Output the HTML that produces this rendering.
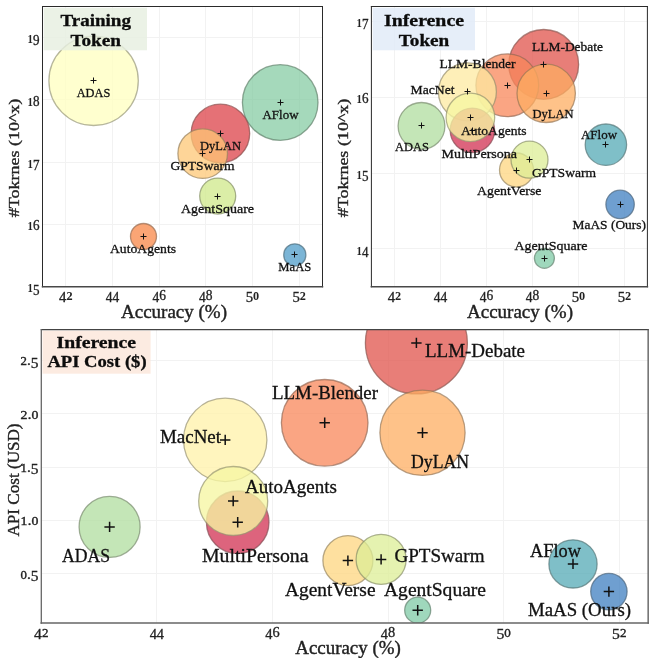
<!DOCTYPE html>
<html lang="en">
<head>
<meta charset="utf-8">
<title>Token and API cost vs. accuracy</title>
<style>
html, body { margin: 0; padding: 0; background: #fff; }
body { width: 650px; height: 658px; overflow: hidden; }
svg { display: block; font-family: "Liberation Serif", "DejaVu Serif", serif; }
</style>
</head>
<body>
<svg width="650" height="658" viewBox="0 0 650 658" role="img" aria-label="Bubble charts of training tokens, inference tokens and inference API cost versus accuracy">
<rect width="650" height="658" fill="#fff"/>
<g id="p1">
<rect x="42.5" y="6.5" width="280" height="280.25" fill="#fff"/>
<path d="M65.5 6.5V286.75M112.5 6.5V286.75M159.5 6.5V286.75M205.5 6.5V286.75M252.5 6.5V286.75M299.5 6.5V286.75M42.5 286.5H322.5M42.5 224.5H322.5M42.5 162.5H322.5M42.5 99.5H322.5M42.5 37.5H322.5" stroke="#f2f2f2" stroke-width="1" fill="none"/>
<clipPath id="cp1"><rect x="42.5" y="6.5" width="280" height="280.25"/></clipPath>
<g clip-path="url(#cp1)">
<circle cx="93.6" cy="80.8" r="44.7" fill="#ffffbf" fill-opacity="0.75" stroke="#98987b" stroke-opacity="0.7" stroke-width="1.3"/>
<circle cx="280.2" cy="102.5" r="37.8" fill="#74c596" fill-opacity="0.65" stroke="#61816b" stroke-opacity="0.7" stroke-width="1.3"/>
<circle cx="220.4" cy="133.5" r="29.3" fill="#dc4248" fill-opacity="0.75" stroke="#8a4d4c" stroke-opacity="0.7" stroke-width="1.3"/>
<circle cx="202.7" cy="153.6" r="24.8" fill="#fdc776" fill-opacity="0.75" stroke="#98825e" stroke-opacity="0.7" stroke-width="1.3"/>
<circle cx="217.7" cy="196.1" r="18" fill="#cfe88a" fill-opacity="0.75" stroke="#858f66" stroke-opacity="0.7" stroke-width="1.3"/>
<circle cx="143.5" cy="236.5" r="13" fill="#f98e52" fill-opacity="0.8" stroke="#966b50" stroke-opacity="0.7" stroke-width="1.3"/>
<circle cx="294.8" cy="254.9" r="11.1" fill="#4f9cc8" fill-opacity="0.75" stroke="#52717f" stroke-opacity="0.7" stroke-width="1.3"/>
</g>
<path d="M90.5 80.5H96.5M93.5 77.5V83.5" stroke="#111" stroke-width="1" fill="none"/>
<path d="M277.5 102.5H283.5M280.5 99.5V105.5" stroke="#111" stroke-width="1" fill="none"/>
<path d="M217.5 133.5H223.5M220.5 130.5V136.5" stroke="#111" stroke-width="1" fill="none"/>
<path d="M199.5 153.5H205.5M202.5 150.5V156.5" stroke="#111" stroke-width="1" fill="none"/>
<path d="M214.5 196.5H220.5M217.5 193.5V199.5" stroke="#111" stroke-width="1" fill="none"/>
<path d="M140.5 236.5H146.5M143.5 233.5V239.5" stroke="#111" stroke-width="1" fill="none"/>
<path d="M291.5 254.5H297.5M294.5 251.5V257.5" stroke="#111" stroke-width="1" fill="none"/>
<rect x="43.7" y="7.8" width="103.3" height="42.5" fill="#e6efe0" fill-opacity="0.82"/>
<path d="M42.5 6.5H322.5" stroke="#2a2a2a" stroke-width="1" fill="none" stroke-linecap="square"/>
<path d="M322.5 6.5V286.75" stroke="#2a2a2a" stroke-width="1" fill="none" stroke-linecap="square"/>
<path d="M42.5 6.5V286.75" stroke="#2a2a2a" stroke-width="1" fill="none" stroke-linecap="square"/>
<path d="M42.5 286.75H322.5" stroke="#484848" stroke-width="1.5" fill="none" stroke-linecap="square"/>
<text x="95.7" y="26" font-size="16.3" text-anchor="middle" font-weight="bold" fill="#0c0c0c" stroke="#0c0c0c" stroke-width="0.3" textLength="70.5" lengthAdjust="spacingAndGlyphs">Training</text>
<text x="95.7" y="46" font-size="16.3" text-anchor="middle" font-weight="bold" fill="#0c0c0c" stroke="#0c0c0c" stroke-width="0.3" textLength="50.5" lengthAdjust="spacingAndGlyphs">Token</text>
<text x="65.83" y="300" font-size="13.8" text-anchor="middle" fill="#222" stroke="#222" stroke-width="0.3" textLength="13.5" lengthAdjust="spacingAndGlyphs"><tspan font-size="13.8" dy="2.07">4</tspan><tspan font-size="11.45" font-weight="bold" stroke-width="0" dy="-2.07">2</tspan></text>
<text x="112.5" y="300" font-size="13.8" text-anchor="middle" fill="#222" stroke="#222" stroke-width="0.3" textLength="13.5" lengthAdjust="spacingAndGlyphs"><tspan font-size="13.8" dy="2.07">4</tspan><tspan font-size="13.8">4</tspan></text>
<text x="159.17" y="300" font-size="13.8" text-anchor="middle" fill="#222" stroke="#222" stroke-width="0.3" textLength="13.5" lengthAdjust="spacingAndGlyphs"><tspan font-size="13.8" dy="2.07">4</tspan><tspan font-size="13.8" dy="-2.07">6</tspan></text>
<text x="205.83" y="300" font-size="13.8" text-anchor="middle" fill="#222" stroke="#222" stroke-width="0.3" textLength="13.5" lengthAdjust="spacingAndGlyphs"><tspan font-size="13.8" dy="2.07">4</tspan><tspan font-size="13.8" dy="-2.07">8</tspan></text>
<text x="252.5" y="300" font-size="13.8" text-anchor="middle" fill="#222" stroke="#222" stroke-width="0.3" textLength="13.5" lengthAdjust="spacingAndGlyphs"><tspan font-size="13.8" dy="2.07">5</tspan><tspan font-size="11.45" font-weight="bold" stroke-width="0" dy="-2.07">0</tspan></text>
<text x="299.17" y="300" font-size="13.8" text-anchor="middle" fill="#222" stroke="#222" stroke-width="0.3" textLength="13.5" lengthAdjust="spacingAndGlyphs"><tspan font-size="13.8" dy="2.07">5</tspan><tspan font-size="11.45" font-weight="bold" stroke-width="0" dy="-2.07">2</tspan></text>
<text x="39.5" y="292.45" font-size="13.8" text-anchor="end" fill="#222" stroke="#222" stroke-width="0.3" textLength="12" lengthAdjust="spacingAndGlyphs"><tspan font-size="11.45" font-weight="bold" stroke-width="0">1</tspan><tspan font-size="13.8" dy="2.07">5</tspan></text>
<text x="39.5" y="230.17" font-size="13.8" text-anchor="end" fill="#222" stroke="#222" stroke-width="0.3" textLength="12" lengthAdjust="spacingAndGlyphs"><tspan font-size="11.45" font-weight="bold" stroke-width="0">1</tspan><tspan font-size="13.8">6</tspan></text>
<text x="39.5" y="167.89" font-size="13.8" text-anchor="end" fill="#222" stroke="#222" stroke-width="0.3" textLength="12" lengthAdjust="spacingAndGlyphs"><tspan font-size="11.45" font-weight="bold" stroke-width="0">1</tspan><tspan font-size="13.8" dy="2.07">7</tspan></text>
<text x="39.5" y="105.62" font-size="13.8" text-anchor="end" fill="#222" stroke="#222" stroke-width="0.3" textLength="12" lengthAdjust="spacingAndGlyphs"><tspan font-size="11.45" font-weight="bold" stroke-width="0">1</tspan><tspan font-size="13.8">8</tspan></text>
<text x="39.5" y="43.34" font-size="13.8" text-anchor="end" fill="#222" stroke="#222" stroke-width="0.3" textLength="12" lengthAdjust="spacingAndGlyphs"><tspan font-size="11.45" font-weight="bold" stroke-width="0">1</tspan><tspan font-size="13.8" dy="2.07">9</tspan></text>
<text x="174" y="318.2" font-size="19" text-anchor="middle" fill="#222" stroke="#222" stroke-width="0.4" textLength="106" lengthAdjust="spacingAndGlyphs">Accuracy (%)</text>
<text x="19.4" y="158" font-size="15.4" text-anchor="middle" fill="#222" stroke="#222" stroke-width="0.35" textLength="118.7" lengthAdjust="spacingAndGlyphs" transform="rotate(-90 19.4 158)">#Tokrnes (10^x)</text>
<text x="76.7" y="96.5" font-size="13.1" text-anchor="start" fill="#111" stroke="#111" stroke-width="0.3" textLength="33.6" lengthAdjust="spacingAndGlyphs">ADAS</text>
<text x="262.5" y="119" font-size="13.1" text-anchor="start" fill="#111" stroke="#111" stroke-width="0.3" textLength="36" lengthAdjust="spacingAndGlyphs">AFlow</text>
<text x="200" y="149.5" font-size="13.1" text-anchor="start" fill="#111" stroke="#111" stroke-width="0.3" textLength="41" lengthAdjust="spacingAndGlyphs">DyLAN</text>
<text x="170.5" y="169.5" font-size="13.1" text-anchor="start" fill="#111" stroke="#111" stroke-width="0.3" textLength="64" lengthAdjust="spacingAndGlyphs">GPTSwarm</text>
<text x="181" y="212.5" font-size="13.1" text-anchor="start" fill="#111" stroke="#111" stroke-width="0.3" textLength="73" lengthAdjust="spacingAndGlyphs">AgentSquare</text>
<text x="110" y="252.5" font-size="13.1" text-anchor="start" fill="#111" stroke="#111" stroke-width="0.3" textLength="66" lengthAdjust="spacingAndGlyphs">AutoAgents</text>
<text x="278.3" y="270.9" font-size="13.1" text-anchor="start" fill="#111" stroke="#111" stroke-width="0.3" textLength="33" lengthAdjust="spacingAndGlyphs">MaAS</text>
</g>
<g id="p2">
<rect x="371.4" y="6.5" width="276" height="280.25" fill="#fff"/>
<path d="M394.5 6.5V286.75M440.5 6.5V286.75M486.5 6.5V286.75M532.5 6.5V286.75M578.5 6.5V286.75M624.5 6.5V286.75M371.4 248.5H647.4M371.4 173.5H647.4M371.4 97.5H647.4M371.4 21.5H647.4" stroke="#f2f2f2" stroke-width="1" fill="none"/>
<clipPath id="cp2"><rect x="371.4" y="6.5" width="276" height="280.25"/></clipPath>
<g clip-path="url(#cp2)">
<circle cx="543.7" cy="64.4" r="34.9" fill="#e0534b" fill-opacity="0.75" stroke="#8c544d" stroke-opacity="0.7" stroke-width="1.3"/>
<circle cx="507.3" cy="85.3" r="31.4" fill="#f8875a" fill-opacity="0.75" stroke="#966853" stroke-opacity="0.7" stroke-width="1.3"/>
<circle cx="546.2" cy="93.3" r="29.2" fill="#fdae61" fill-opacity="0.75" stroke="#987856" stroke-opacity="0.7" stroke-width="1.3"/>
<circle cx="467.4" cy="91.8" r="29" fill="#fee9a0" fill-opacity="0.75" stroke="#98906f" stroke-opacity="0.7" stroke-width="1.3"/>
<circle cx="472.4" cy="130.3" r="22.2" fill="#d43d5c" fill-opacity="0.8" stroke="#874b54" stroke-opacity="0.7" stroke-width="1.3"/>
<circle cx="470.4" cy="117.4" r="24.3" fill="#f6f6a3" fill-opacity="0.78" stroke="#959570" stroke-opacity="0.7" stroke-width="1.3"/>
<circle cx="421.5" cy="125.9" r="23.4" fill="#b0de9f" fill-opacity="0.75" stroke="#798b6e" stroke-opacity="0.7" stroke-width="1.3"/>
<circle cx="605.9" cy="144.7" r="20.7" fill="#54aab5" fill-opacity="0.75" stroke="#547677" stroke-opacity="0.7" stroke-width="1.3"/>
<circle cx="516.5" cy="170" r="17" fill="#fdd57f" fill-opacity="0.75" stroke="#988862" stroke-opacity="0.7" stroke-width="1.3"/>
<circle cx="529.5" cy="159.7" r="18.5" fill="#dcee95" fill-opacity="0.75" stroke="#8a926a" stroke-opacity="0.7" stroke-width="1.3"/>
<circle cx="620.1" cy="204.4" r="14.2" fill="#3f7fc0" fill-opacity="0.75" stroke="#4c657c" stroke-opacity="0.7" stroke-width="1.3"/>
<circle cx="544.4" cy="258.3" r="10" fill="#7fcaa6" fill-opacity="0.75" stroke="#658371" stroke-opacity="0.7" stroke-width="1.3"/>
</g>
<path d="M540.5 64.5H546.5M543.5 61.5V67.5" stroke="#111" stroke-width="1" fill="none"/>
<path d="M504.5 85.5H510.5M507.5 82.5V88.5" stroke="#111" stroke-width="1" fill="none"/>
<path d="M543.5 93.5H549.5M546.5 90.5V96.5" stroke="#111" stroke-width="1" fill="none"/>
<path d="M464.5 91.5H470.5M467.5 88.5V94.5" stroke="#111" stroke-width="1" fill="none"/>
<path d="M469.5 130.5H475.5M472.5 127.5V133.5" stroke="#111" stroke-width="1" fill="none"/>
<path d="M467.5 117.5H473.5M470.5 114.5V120.5" stroke="#111" stroke-width="1" fill="none"/>
<path d="M418.5 125.5H424.5M421.5 122.5V128.5" stroke="#111" stroke-width="1" fill="none"/>
<path d="M602.5 144.5H608.5M605.5 141.5V147.5" stroke="#111" stroke-width="1" fill="none"/>
<path d="M513.5 170.5H519.5M516.5 167.5V173.5" stroke="#111" stroke-width="1" fill="none"/>
<path d="M526.5 159.5H532.5M529.5 156.5V162.5" stroke="#111" stroke-width="1" fill="none"/>
<path d="M617.5 204.5H623.5M620.5 201.5V207.5" stroke="#111" stroke-width="1" fill="none"/>
<path d="M541.5 258.5H547.5M544.5 255.5V261.5" stroke="#111" stroke-width="1" fill="none"/>
<rect x="372.7" y="7.8" width="102.3" height="42.5" fill="#e0eaf8" fill-opacity="0.82"/>
<path d="M371.4 6.5H647.4" stroke="#2a2a2a" stroke-width="1" fill="none" stroke-linecap="square"/>
<path d="M647.4 6.5V286.75" stroke="#2a2a2a" stroke-width="1" fill="none" stroke-linecap="square"/>
<path d="M371.4 6.5V286.75" stroke="#2a2a2a" stroke-width="1" fill="none" stroke-linecap="square"/>
<path d="M371.4 286.75H647.4" stroke="#484848" stroke-width="1.5" fill="none" stroke-linecap="square"/>
<text x="424" y="26" font-size="16.3" text-anchor="middle" font-weight="bold" fill="#0c0c0c" stroke="#0c0c0c" stroke-width="0.3" textLength="80" lengthAdjust="spacingAndGlyphs">Inference</text>
<text x="424" y="46" font-size="16.3" text-anchor="middle" font-weight="bold" fill="#0c0c0c" stroke="#0c0c0c" stroke-width="0.3" textLength="50.5" lengthAdjust="spacingAndGlyphs">Token</text>
<text x="394.4" y="300" font-size="13.8" text-anchor="middle" fill="#222" stroke="#222" stroke-width="0.3" textLength="13.5" lengthAdjust="spacingAndGlyphs"><tspan font-size="13.8" dy="2.07">4</tspan><tspan font-size="11.45" font-weight="bold" stroke-width="0" dy="-2.07">2</tspan></text>
<text x="440.4" y="300" font-size="13.8" text-anchor="middle" fill="#222" stroke="#222" stroke-width="0.3" textLength="13.5" lengthAdjust="spacingAndGlyphs"><tspan font-size="13.8" dy="2.07">4</tspan><tspan font-size="13.8">4</tspan></text>
<text x="486.4" y="300" font-size="13.8" text-anchor="middle" fill="#222" stroke="#222" stroke-width="0.3" textLength="13.5" lengthAdjust="spacingAndGlyphs"><tspan font-size="13.8" dy="2.07">4</tspan><tspan font-size="13.8" dy="-2.07">6</tspan></text>
<text x="532.4" y="300" font-size="13.8" text-anchor="middle" fill="#222" stroke="#222" stroke-width="0.3" textLength="13.5" lengthAdjust="spacingAndGlyphs"><tspan font-size="13.8" dy="2.07">4</tspan><tspan font-size="13.8" dy="-2.07">8</tspan></text>
<text x="578.4" y="300" font-size="13.8" text-anchor="middle" fill="#222" stroke="#222" stroke-width="0.3" textLength="13.5" lengthAdjust="spacingAndGlyphs"><tspan font-size="13.8" dy="2.07">5</tspan><tspan font-size="11.45" font-weight="bold" stroke-width="0" dy="-2.07">0</tspan></text>
<text x="624.4" y="300" font-size="13.8" text-anchor="middle" fill="#222" stroke="#222" stroke-width="0.3" textLength="13.5" lengthAdjust="spacingAndGlyphs"><tspan font-size="13.8" dy="2.07">5</tspan><tspan font-size="11.45" font-weight="bold" stroke-width="0" dy="-2.07">2</tspan></text>
<text x="368.5" y="254.58" font-size="13.8" text-anchor="end" fill="#222" stroke="#222" stroke-width="0.3" textLength="12" lengthAdjust="spacingAndGlyphs"><tspan font-size="11.45" font-weight="bold" stroke-width="0">1</tspan><tspan font-size="13.8" dy="2.07">4</tspan></text>
<text x="368.5" y="178.84" font-size="13.8" text-anchor="end" fill="#222" stroke="#222" stroke-width="0.3" textLength="12" lengthAdjust="spacingAndGlyphs"><tspan font-size="11.45" font-weight="bold" stroke-width="0">1</tspan><tspan font-size="13.8" dy="2.07">5</tspan></text>
<text x="368.5" y="103.09" font-size="13.8" text-anchor="end" fill="#222" stroke="#222" stroke-width="0.3" textLength="12" lengthAdjust="spacingAndGlyphs"><tspan font-size="11.45" font-weight="bold" stroke-width="0">1</tspan><tspan font-size="13.8">6</tspan></text>
<text x="368.5" y="27.35" font-size="13.8" text-anchor="end" fill="#222" stroke="#222" stroke-width="0.3" textLength="12" lengthAdjust="spacingAndGlyphs"><tspan font-size="11.45" font-weight="bold" stroke-width="0">1</tspan><tspan font-size="13.8" dy="2.07">7</tspan></text>
<text x="520" y="318.2" font-size="19" text-anchor="middle" fill="#222" stroke="#222" stroke-width="0.4" textLength="106" lengthAdjust="spacingAndGlyphs">Accuracy (%)</text>
<text x="347.8" y="158" font-size="15.4" text-anchor="middle" fill="#222" stroke="#222" stroke-width="0.35" textLength="118.7" lengthAdjust="spacingAndGlyphs" transform="rotate(-90 347.8 158)">#Tokrnes (10^x)</text>
<text x="532" y="51.2" font-size="13.1" text-anchor="start" fill="#111" stroke="#111" stroke-width="0.3" textLength="71" lengthAdjust="spacingAndGlyphs">LLM-Debate</text>
<text x="439.5" y="68.4" font-size="13.1" text-anchor="start" fill="#111" stroke="#111" stroke-width="0.3" textLength="76" lengthAdjust="spacingAndGlyphs">LLM-Blender</text>
<text x="410.5" y="94" font-size="13.1" text-anchor="start" fill="#111" stroke="#111" stroke-width="0.3" textLength="44" lengthAdjust="spacingAndGlyphs">MacNet</text>
<text x="532.5" y="118.2" font-size="13.1" text-anchor="start" fill="#111" stroke="#111" stroke-width="0.3" textLength="41" lengthAdjust="spacingAndGlyphs">DyLAN</text>
<text x="461" y="134.7" font-size="13.1" text-anchor="start" fill="#111" stroke="#111" stroke-width="0.3" textLength="65.5" lengthAdjust="spacingAndGlyphs">AutoAgents</text>
<text x="395" y="150.5" font-size="13.1" text-anchor="start" fill="#111" stroke="#111" stroke-width="0.3" textLength="34" lengthAdjust="spacingAndGlyphs">ADAS</text>
<text x="441.5" y="158" font-size="13.1" text-anchor="start" fill="#111" stroke="#111" stroke-width="0.3" textLength="75.5" lengthAdjust="spacingAndGlyphs">MultiPersona</text>
<text x="581" y="139.2" font-size="13.1" text-anchor="start" fill="#111" stroke="#111" stroke-width="0.3" textLength="36" lengthAdjust="spacingAndGlyphs">AFlow</text>
<text x="532" y="176.8" font-size="13.1" text-anchor="start" fill="#111" stroke="#111" stroke-width="0.3" textLength="64" lengthAdjust="spacingAndGlyphs">GPTSwarm</text>
<text x="477" y="195.2" font-size="13.1" text-anchor="start" fill="#111" stroke="#111" stroke-width="0.3" textLength="64.5" lengthAdjust="spacingAndGlyphs">AgentVerse</text>
<text x="572.5" y="229.2" font-size="13.1" text-anchor="start" fill="#111" stroke="#111" stroke-width="0.3" textLength="73.5" lengthAdjust="spacingAndGlyphs">MaAS (Ours)</text>
<text x="514.5" y="250" font-size="13.1" text-anchor="start" fill="#111" stroke="#111" stroke-width="0.3" textLength="73" lengthAdjust="spacingAndGlyphs">AgentSquare</text>
</g>
<g id="p3">
<rect x="41.3" y="329.6" width="606.85" height="293.4" fill="#fff"/>
<path d="M156.5 329.6V623M272.5 329.6V623M388.5 329.6V623M503.5 329.6V623M619.5 329.6V623M41.3 573.5H648.15M41.3 520.5H648.15M41.3 467.5H648.15M41.3 413.5H648.15M41.3 360.5H648.15" stroke="#f2f2f2" stroke-width="1" fill="none"/>
<clipPath id="cp3"><rect x="41.3" y="329.6" width="606.85" height="293.4"/></clipPath>
<g clip-path="url(#cp3)">
<circle cx="416.4" cy="342.9" r="51" fill="#e0534b" fill-opacity="0.75" stroke="#8c544d" stroke-opacity="0.7" stroke-width="1.3"/>
<circle cx="324.7" cy="422.8" r="43.3" fill="#f8875a" fill-opacity="0.75" stroke="#966853" stroke-opacity="0.7" stroke-width="1.3"/>
<circle cx="422.5" cy="432.8" r="42.6" fill="#fdae61" fill-opacity="0.75" stroke="#987856" stroke-opacity="0.7" stroke-width="1.3"/>
<circle cx="225.2" cy="439.9" r="41.7" fill="#fff2a8" fill-opacity="0.75" stroke="#989372" stroke-opacity="0.7" stroke-width="1.3"/>
<circle cx="237.7" cy="522.3" r="31.3" fill="#d43d5c" fill-opacity="0.8" stroke="#874b54" stroke-opacity="0.7" stroke-width="1.3"/>
<circle cx="233.2" cy="501" r="34.5" fill="#f6f6a3" fill-opacity="0.78" stroke="#959570" stroke-opacity="0.7" stroke-width="1.3"/>
<circle cx="109.6" cy="526.9" r="30.5" fill="#b0de9f" fill-opacity="0.75" stroke="#798b6e" stroke-opacity="0.7" stroke-width="1.3"/>
<circle cx="347.9" cy="560.6" r="25" fill="#fdd57f" fill-opacity="0.75" stroke="#988862" stroke-opacity="0.7" stroke-width="1.3"/>
<circle cx="381.1" cy="559.4" r="25" fill="#dcee95" fill-opacity="0.75" stroke="#8a926a" stroke-opacity="0.7" stroke-width="1.3"/>
<circle cx="417.7" cy="610.2" r="13" fill="#7fcaa6" fill-opacity="0.75" stroke="#658371" stroke-opacity="0.7" stroke-width="1.3"/>
<circle cx="573" cy="563.9" r="24.1" fill="#54aab5" fill-opacity="0.75" stroke="#547677" stroke-opacity="0.7" stroke-width="1.3"/>
<circle cx="608.9" cy="591.6" r="18.2" fill="#3f7fc0" fill-opacity="0.75" stroke="#4c657c" stroke-opacity="0.7" stroke-width="1.3"/>
</g>
<path d="M411.2 342.9H421.6M416.4 337.7V348.1" stroke="#111" stroke-width="1.5" fill="none"/>
<path d="M319.5 422.8H329.9M324.7 417.6V428" stroke="#111" stroke-width="1.5" fill="none"/>
<path d="M417.3 432.8H427.7M422.5 427.6V438" stroke="#111" stroke-width="1.5" fill="none"/>
<path d="M220 439.9H230.4M225.2 434.7V445.1" stroke="#111" stroke-width="1.5" fill="none"/>
<path d="M232.5 522.3H242.9M237.7 517.1V527.5" stroke="#111" stroke-width="1.5" fill="none"/>
<path d="M228 501H238.4M233.2 495.8V506.2" stroke="#111" stroke-width="1.5" fill="none"/>
<path d="M104.4 526.9H114.8M109.6 521.7V532.1" stroke="#111" stroke-width="1.5" fill="none"/>
<path d="M342.7 560.6H353.1M347.9 555.4V565.8" stroke="#111" stroke-width="1.5" fill="none"/>
<path d="M375.9 559.4H386.3M381.1 554.2V564.6" stroke="#111" stroke-width="1.5" fill="none"/>
<path d="M412.5 610.2H422.9M417.7 605V615.4" stroke="#111" stroke-width="1.5" fill="none"/>
<path d="M567.8 563.9H578.2M573 558.7V569.1" stroke="#111" stroke-width="1.5" fill="none"/>
<path d="M603.7 591.6H614.1M608.9 586.4V596.8" stroke="#111" stroke-width="1.5" fill="none"/>
<rect x="42.5" y="330.6" width="108.1" height="43.1" fill="#fbe6da" fill-opacity="0.82"/>
<path d="M41.3 329.6H648.15" stroke="#444" stroke-width="1.1" fill="none" stroke-linecap="square"/>
<path d="M648.15 329.6V623" stroke="#555" stroke-width="1.3" fill="none" stroke-linecap="square"/>
<path d="M41.3 329.6V623" stroke="#666" stroke-width="1.3" fill="none" stroke-linecap="square"/>
<path d="M41.3 623H648.15" stroke="#666" stroke-width="1.6" fill="none" stroke-linecap="square"/>
<text x="96.3" y="348" font-size="16" text-anchor="middle" font-weight="bold" fill="#0c0c0c" stroke="#0c0c0c" stroke-width="0.3" textLength="79.5" lengthAdjust="spacingAndGlyphs">Inference</text>
<text x="97" y="367.3" font-size="16" text-anchor="middle" font-weight="bold" fill="#0c0c0c" stroke="#0c0c0c" stroke-width="0.3" textLength="99.2" lengthAdjust="spacingAndGlyphs">API Cost ($)</text>
<text x="41.3" y="637.4" font-size="13.8" text-anchor="middle" fill="#222" stroke="#222" stroke-width="0.3" textLength="14.4" lengthAdjust="spacingAndGlyphs"><tspan font-size="13.8" dy="2.07">4</tspan><tspan font-size="11.45" stroke-width="0.35" dy="-2.07">2</tspan></text>
<text x="156.89" y="637.4" font-size="13.8" text-anchor="middle" fill="#222" stroke="#222" stroke-width="0.3" textLength="14.4" lengthAdjust="spacingAndGlyphs"><tspan font-size="13.8" dy="2.07">4</tspan><tspan font-size="13.8">4</tspan></text>
<text x="272.48" y="637.4" font-size="13.8" text-anchor="middle" fill="#222" stroke="#222" stroke-width="0.3" textLength="14.4" lengthAdjust="spacingAndGlyphs"><tspan font-size="13.8" dy="2.07">4</tspan><tspan font-size="13.8" dy="-2.07">6</tspan></text>
<text x="388.07" y="637.4" font-size="13.8" text-anchor="middle" fill="#222" stroke="#222" stroke-width="0.3" textLength="14.4" lengthAdjust="spacingAndGlyphs"><tspan font-size="13.8" dy="2.07">4</tspan><tspan font-size="13.8" dy="-2.07">8</tspan></text>
<text x="503.66" y="637.4" font-size="13.8" text-anchor="middle" fill="#222" stroke="#222" stroke-width="0.3" textLength="14.4" lengthAdjust="spacingAndGlyphs"><tspan font-size="13.8" dy="2.07">5</tspan><tspan font-size="11.45" stroke-width="0.35" dy="-2.07">0</tspan></text>
<text x="619.25" y="637.4" font-size="13.8" text-anchor="middle" fill="#222" stroke="#222" stroke-width="0.3" textLength="14.4" lengthAdjust="spacingAndGlyphs"><tspan font-size="13.8" dy="2.07">5</tspan><tspan font-size="11.45" stroke-width="0.35" dy="-2.07">2</tspan></text>
<text x="38.5" y="578.76" font-size="13.8" text-anchor="end" fill="#222" stroke="#222" stroke-width="0.3" textLength="18" lengthAdjust="spacingAndGlyphs"><tspan font-size="11.45" stroke-width="0.35">0</tspan><tspan font-size="13.8">.</tspan><tspan font-size="13.8" dy="2.07">5</tspan></text>
<text x="38.5" y="525.44" font-size="13.8" text-anchor="end" fill="#222" stroke="#222" stroke-width="0.3" textLength="18" lengthAdjust="spacingAndGlyphs"><tspan font-size="11.45" stroke-width="0.35">1</tspan><tspan font-size="13.8">.</tspan><tspan font-size="11.45" stroke-width="0.35">0</tspan></text>
<text x="38.5" y="472.12" font-size="13.8" text-anchor="end" fill="#222" stroke="#222" stroke-width="0.3" textLength="18" lengthAdjust="spacingAndGlyphs"><tspan font-size="11.45" stroke-width="0.35">1</tspan><tspan font-size="13.8">.</tspan><tspan font-size="13.8" dy="2.07">5</tspan></text>
<text x="38.5" y="418.81" font-size="13.8" text-anchor="end" fill="#222" stroke="#222" stroke-width="0.3" textLength="18" lengthAdjust="spacingAndGlyphs"><tspan font-size="11.45" stroke-width="0.35">2</tspan><tspan font-size="13.8">.</tspan><tspan font-size="11.45" stroke-width="0.35">0</tspan></text>
<text x="38.5" y="365.49" font-size="13.8" text-anchor="end" fill="#222" stroke="#222" stroke-width="0.3" textLength="18" lengthAdjust="spacingAndGlyphs"><tspan font-size="11.45" stroke-width="0.35">2</tspan><tspan font-size="13.8">.</tspan><tspan font-size="13.8" dy="2.07">5</tspan></text>
<text x="348" y="654.3" font-size="19" text-anchor="middle" fill="#222" stroke="#222" stroke-width="0.4" textLength="105.5" lengthAdjust="spacingAndGlyphs">Accuracy (%)</text>
<text x="18.8" y="480" font-size="16.6" text-anchor="middle" fill="#222" stroke="#222" stroke-width="0.35" textLength="113" lengthAdjust="spacingAndGlyphs" transform="rotate(-90 18.8 480)">API Cost (USD)</text>
<text x="425" y="357" font-size="18.7" text-anchor="start" fill="#111" stroke="#111" stroke-width="0.3" textLength="100" lengthAdjust="spacingAndGlyphs">LLM-Debate</text>
<text x="272" y="399" font-size="18.7" text-anchor="start" fill="#111" stroke="#111" stroke-width="0.3" textLength="106" lengthAdjust="spacingAndGlyphs">LLM-Blender</text>
<text x="160" y="443" font-size="18.7" text-anchor="start" fill="#111" stroke="#111" stroke-width="0.3" textLength="61" lengthAdjust="spacingAndGlyphs">MacNet</text>
<text x="411" y="468" font-size="18.7" text-anchor="start" fill="#111" stroke="#111" stroke-width="0.3" textLength="58" lengthAdjust="spacingAndGlyphs">DyLAN</text>
<text x="245" y="493" font-size="18.7" text-anchor="start" fill="#111" stroke="#111" stroke-width="0.3" textLength="92" lengthAdjust="spacingAndGlyphs">AutoAgents</text>
<text x="62" y="562" font-size="18.7" text-anchor="start" fill="#111" stroke="#111" stroke-width="0.3" textLength="48" lengthAdjust="spacingAndGlyphs">ADAS</text>
<text x="202" y="562" font-size="18.7" text-anchor="start" fill="#111" stroke="#111" stroke-width="0.3" textLength="106.5" lengthAdjust="spacingAndGlyphs">MultiPersona</text>
<text x="394.5" y="562" font-size="18.7" text-anchor="start" fill="#111" stroke="#111" stroke-width="0.3" textLength="90" lengthAdjust="spacingAndGlyphs">GPTSwarm</text>
<text x="285" y="596" font-size="18.7" text-anchor="start" fill="#111" stroke="#111" stroke-width="0.3" textLength="90.5" lengthAdjust="spacingAndGlyphs">AgentVerse</text>
<text x="384" y="596" font-size="18.7" text-anchor="start" fill="#111" stroke="#111" stroke-width="0.3" textLength="102" lengthAdjust="spacingAndGlyphs">AgentSquare</text>
<text x="530" y="557" font-size="18.7" text-anchor="start" fill="#111" stroke="#111" stroke-width="0.3" textLength="51" lengthAdjust="spacingAndGlyphs">AFlow</text>
<text x="528" y="616" font-size="18.7" text-anchor="start" fill="#111" stroke="#111" stroke-width="0.3" textLength="103" lengthAdjust="spacingAndGlyphs">MaAS (Ours)</text>
</g>
</svg>
</body>
</html>
